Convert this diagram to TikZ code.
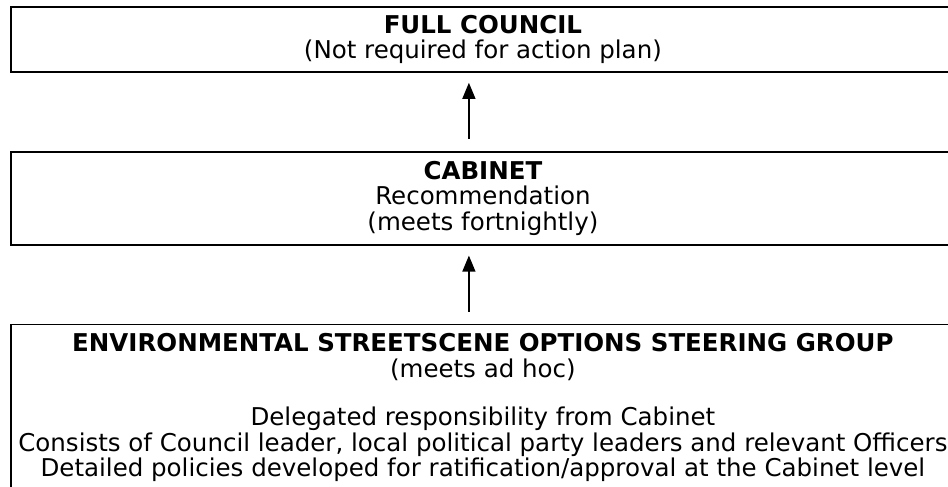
\documentclass[tikz,border=0pt]{standalone}
\usepackage{fontspec}
\setmainfont{DejaVu Sans}
\usetikzlibrary{positioning,arrows.meta}

\begin{document}
\begin{tikzpicture}[x=1pt, y=-1pt, nodes = {align = center},
    panel/.style = {draw, line width=1.8pt, minimum width=944pt,
      inner xsep=0pt, font=\fontsize{24.5}{25.5}\selectfont},
    upward/.style = {-{Triangle[length=16pt,width=13pt]}, line width=1.3pt,
      shorten <=12pt, shorten >=10pt}]
  \useasboundingbox (0,0) rectangle (948,487);
  \clip (0,0) rectangle (948,487);

  \node (council) [panel, anchor=north west, minimum height=65pt] at (10,6)
  {\textbf{FULL COUNCIL}\\(Not required for action plan)};

  \node (cabinet) [panel, below = 78pt of council, minimum height=93pt]
  {\textbf{CABINET}\\Recommendation\\(meets fortnightly)};

  \node (steering) [panel, below = 78pt of cabinet, inner ysep=9pt,
  text depth=200pt] {\textbf{ENVIRONMENTAL STREETSCENE OPTIONS STEERING
      GROUP}\\(meets ad hoc)\\[23pt]
    Delegated responsibility from Cabinet\\
    Consists of Council leader, local political party leaders and relevant
    Officers\\
    Detailed policies developed for ratification/approval at the Cabinet
    level};

  \path[upward] ([xshift=-14pt]cabinet.north) edge ([xshift=-14pt]council.south);

  \path[upward] ([xshift=-14pt]steering.north) edge ([xshift=-14pt]cabinet.south);
\end{tikzpicture}
\end{document}
